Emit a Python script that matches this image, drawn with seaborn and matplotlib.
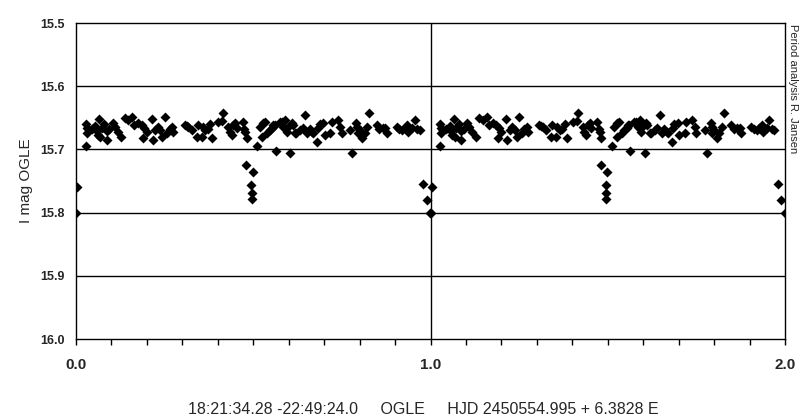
import matplotlib
matplotlib.use("Agg")
import matplotlib.pyplot as plt
import seaborn as sns
import pandas as pd
import numpy as np
from matplotlib.ticker import MultipleLocator, FixedLocator

# Phase (0..1) and I magnitude (plotted twice: phase and phase+1)
phase = [
    0.001, 0.003,
    0.028, 0.031, 0.031, 0.028, 0.036, 0.045,
    0.054, 0.059, 0.062, 0.065, 0.068, 0.072,
    0.079, 0.087, 0.087, 0.094,
    0.104, 0.110, 0.118, 0.127, 0.138, 0.147, 0.158, 0.165,
    0.175, 0.186, 0.192, 0.200, 0.189, 0.214, 0.217, 0.223, 0.230, 0.237, 0.251, 0.243, 0.257, 0.264, 0.271, 0.274,
    0.307, 0.312, 0.316, 0.327, 0.341, 0.344, 0.358, 0.355, 0.365, 0.372, 0.378, 0.384, 0.401, 0.412, 0.415,
    0.429, 0.434, 0.440, 0.443, 0.449, 0.454, 0.471, 0.474, 0.477, 0.482,
    0.480, 0.499, 0.494, 0.496, 0.496,
    0.511, 0.519, 0.525, 0.527, 0.533, 0.539, 0.547, 0.553, 0.556, 0.561, 0.564, 0.575, 0.581, 0.584,
    0.590, 0.595, 0.598, 0.604, 0.609, 0.612, 0.618, 0.621, 0.632, 0.640, 0.646, 0.652, 0.660, 0.666, 0.669,
    0.680, 0.683, 0.688, 0.697, 0.702, 0.717, 0.722, 0.739, 0.745, 0.750, 0.779, 0.773,
    0.790, 0.793, 0.795, 0.800, 0.807, 0.815, 0.821, 0.827, 0.849, 0.856, 0.866, 0.877, 0.872,
    0.905, 0.912, 0.920, 0.928, 0.934, 0.937, 0.948, 0.956, 0.963, 0.970,
    0.979, 0.990, 0.999,
]
imag = [
    15.800, 15.759,
    15.660, 15.666, 15.674, 15.695, 15.670, 15.668,
    15.663, 15.671, 15.677, 15.652, 15.680, 15.666,
    15.660, 15.671, 15.685, 15.668,
    15.658, 15.665, 15.672, 15.680, 15.650, 15.653, 15.649, 15.662,
    15.658, 15.661, 15.666, 15.672, 15.682, 15.652, 15.685, 15.669, 15.665, 15.669, 15.649, 15.680, 15.674, 15.668, 15.665, 15.672,
    15.661, 15.663, 15.665, 15.669, 15.680, 15.661, 15.665, 15.680, 15.670, 15.668, 15.660, 15.682, 15.657, 15.655, 15.642,
    15.665, 15.672, 15.677, 15.661, 15.658, 15.666, 15.657, 15.668, 15.672, 15.682,
    15.725, 15.735, 15.756, 15.769, 15.778,
    15.695, 15.665, 15.680, 15.658, 15.657, 15.674, 15.669, 15.666, 15.661, 15.661, 15.703, 15.657, 15.657, 15.665,
    15.653, 15.672, 15.665, 15.706, 15.658, 15.661, 15.674, 15.674, 15.669, 15.666, 15.646, 15.674, 15.668, 15.672, 15.674,
    15.688, 15.666, 15.660, 15.658, 15.677, 15.674, 15.657, 15.653, 15.664, 15.674, 15.706, 15.669,
    15.658, 15.665, 15.674, 15.670, 15.682, 15.674, 15.665, 15.642, 15.661, 15.668, 15.666, 15.674, 15.666,
    15.665, 15.668, 15.669, 15.666, 15.661, 15.672, 15.666, 15.653, 15.668, 15.669,
    15.755, 15.780, 15.800,
]

x_ticks = [0.0, 1.0, 2.0]
x_tick_labels = ["0.0", "1.0", "2.0"]
y_ticks = [15.5, 15.6, 15.7, 15.8, 15.9, 16.0]
y_tick_labels = ["15.5", "15.6", "15.7", "15.8", "15.9", "16.0"]

df = pd.DataFrame({"phase": phase, "imag": imag})
df2 = df.copy()
df2["phase"] = df2["phase"] + 1.0
data = pd.concat([df, df2], ignore_index=True)

sns.set_theme(style="white")
plt.rcParams["font.family"] = ["Liberation Sans", "DejaVu Sans"]

fig = plt.figure(figsize=(8.11, 4.17), dpi=100)
ax = fig.add_axes([76 / 811, (417 - 339) / 417, (785 - 76) / 811, (339 - 23) / 417])

sns.scatterplot(data=data, x="phase", y="imag", marker="D", s=26, color="black",
                edgecolor="black", linewidth=0, ax=ax, zorder=3, legend=False)

ax.set_xlim(0, 2)
ax.set_ylim(16.0, 15.5)

for yv in y_ticks[1:-1]:
    ax.axhline(yv, color="black", lw=1.0, zorder=1)
ax.axvline(1.0, color="black", lw=1.0, zorder=1)

for sp in ax.spines.values():
    sp.set_color("black")
    sp.set_linewidth(1.0)

ax.set_xticks(x_ticks)
ax.set_xticklabels(x_tick_labels, fontsize=11, fontweight="bold")
ax.xaxis.set_minor_locator(MultipleLocator(0.1))
ax.tick_params(axis="x", which="both", direction="out", length=4.5, width=1, color="black",
               bottom=True, pad=9)
ax.set_yticks(y_ticks)
ax.set_yticklabels(y_tick_labels, fontsize=9, fontweight="bold")
ax.tick_params(axis="y", which="both", length=0, pad=8, left=True)

ax.set_xlabel("")
ax.set_ylabel("I mag OGLE", fontsize=11, labelpad=5)

fig.text(423 / 811, 1 - 409 / 417,
         "18:21:34.28 -22:49:24.0     OGLE     HJD 2450554.995 + 6.3828 E",
         ha="center", va="center", fontsize=11.5)
fig.text(793 / 811, 1 - 24 / 417, "Period analysis R. Jansen", rotation=-90,
         ha="center", va="top", fontsize=8)

fig.savefig("out.png", dpi=100)
